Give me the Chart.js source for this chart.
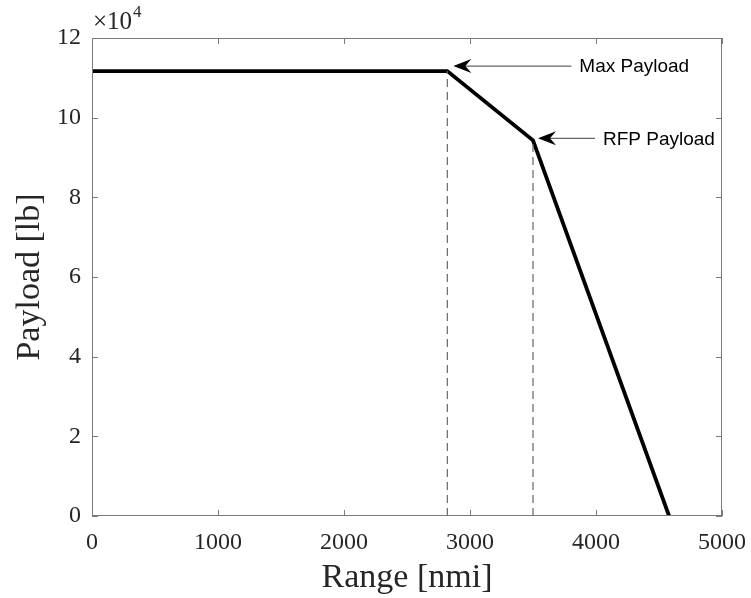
<!DOCTYPE html>
<html lang="en">
<head>
    <meta charset="UTF-8">
    <title>Payload vs Range</title>
    <style>
        body { margin: 0; background: #fff; }
        #wrap { width: 751px; height: 598px; }
    </style>
    <script src="https://cdn.jsdelivr.net/npm/chart.js"></script>
</head>
<body>
    <div id="wrap"><canvas id="payloadChart" width="751" height="598"></canvas></div>

    <script>
        // payload-range diagram data
        const rangeNmi = [0, 2820, 3500, 4580];
        const payloadLb = [111700, 111700, 94300, 0];
        const xTicks = [0, 1000, 2000, 3000, 4000, 5000];
        const yTicks = [0, 20000, 40000, 60000, 80000, 100000, 120000];
        const noteLabels = ['Max Payload', 'RFP Payload'];
        const notePoints = [1, 2]; // index into the line points

        const serif = '"Liberation Serif", "DejaVu Serif", serif';
        const axisGray = '#7a7a7a';
        // arrow layout per note: gap to tip, arrow length, vertical shift
        const arrowCfg = [
            { gap: 6, len: 118, dy: -5 },
            { gap: 5, len: 57, dy: -2 }
        ];

        const linePts = rangeNmi.map((x, i) => ({ x: x, y: payloadLb[i] }));
        const dropLines = notePoints.map(i => [{ x: rangeNmi[i], y: 0 }, { x: rangeNmi[i], y: payloadLb[i] }]);

        // box, inward ticks, exponent label and arrows
        const decorPlugin = {
            id: 'decor',
            afterDatasetsDraw(chart) {
                const ctx = chart.ctx;
                const a = chart.chartArea;
                const xs = chart.scales.x, ys = chart.scales.y;
                ctx.save();
                ctx.strokeStyle = axisGray;
                ctx.lineWidth = 1;
                ctx.strokeRect(a.left + 0.5, a.top + 0.5, a.right - a.left - 1, a.bottom - a.top - 1);
                ctx.beginPath();
                xTicks.forEach(v => {
                    const px = Math.round(xs.getPixelForValue(v)) + 0.5;
                    ctx.moveTo(px, a.bottom); ctx.lineTo(px, a.bottom - 6);
                    ctx.moveTo(px, a.top); ctx.lineTo(px, a.top + 6);
                });
                yTicks.forEach(v => {
                    const py = Math.round(ys.getPixelForValue(v)) + 0.5;
                    ctx.moveTo(a.left, py); ctx.lineTo(a.left + 6, py);
                    ctx.moveTo(a.right, py); ctx.lineTo(a.right - 6, py);
                });
                ctx.stroke();

                // x10^4
                ctx.fillStyle = '#262626';
                ctx.textBaseline = 'alphabetic';
                ctx.textAlign = 'left';
                ctx.font = '25px ' + serif;
                ctx.fillText('\u00d710', a.left + 1, a.top - 9);
                const w = ctx.measureText('\u00d710').width;
                ctx.font = '17px ' + serif;
                ctx.fillText('4', a.left + 1 + w + 1, a.top - 21);

                // annotations with arrows
                ctx.font = '19px "Liberation Sans", Arial, sans-serif';
                ctx.textBaseline = 'middle';
                notePoints.forEach((idx, k) => {
                    const c = arrowCfg[k];
                    const px = xs.getPixelForValue(rangeNmi[idx]);
                    const py = ys.getPixelForValue(payloadLb[idx]) + c.dy;
                    const tip = px + c.gap;
                    const tail = tip + c.len;
                    ctx.strokeStyle = '#666';
                    ctx.lineWidth = 1.3;
                    ctx.beginPath();
                    ctx.moveTo(tip + 10, py); ctx.lineTo(tail, py);
                    ctx.stroke();
                    ctx.fillStyle = '#000';
                    ctx.beginPath();
                    ctx.moveTo(tip, py);
                    ctx.lineTo(tip + 18, py - 7);
                    ctx.lineTo(tip + 12, py);
                    ctx.lineTo(tip + 18, py + 7);
                    ctx.closePath();
                    ctx.fill();
                    ctx.fillText(noteLabels[k], tail + 8, py + 1);
                });
                ctx.restore();
            }
        };

        new Chart(document.getElementById('payloadChart').getContext('2d'), {
            type: 'scatter',
            data: {
                datasets: [
                    {
                        data: dropLines[0], showLine: true, borderColor: '#666', borderWidth: 1.2,
                        borderDash: [8, 5], pointRadius: 0
                    },
                    {
                        data: dropLines[1], showLine: true, borderColor: '#666', borderWidth: 1.2,
                        borderDash: [8, 5], pointRadius: 0
                    },
                    {
                        data: linePts, showLine: true, borderColor: '#000', borderWidth: 3.8,
                        pointRadius: 0, tension: 0
                    }
                ]
            },
            options: {
                responsive: false,
                animation: false,
                layout: { padding: { left: 0, top: 38, right: 29, bottom: 0 } },
                plugins: { legend: { display: false }, tooltip: { enabled: false } },
                scales: {
                    x: {
                        type: 'linear', min: 0, max: 5000,
                        afterBuildTicks: s => { s.ticks = xTicks.map(v => ({ value: v })); },
                        afterFit: s => { s.height = 82; },
                        grid: { display: false },
                        border: { display: false },
                        ticks: { color: '#262626', font: { family: serif, size: 24 }, padding: 4, maxRotation: 0, callback: v => String(v) },
                        title: { display: true, text: 'Range [nmi]', color: '#262626', font: { family: serif, size: 34 }, padding: { top: 2, bottom: 0 } }
                    },
                    y: {
                        type: 'linear', min: 0, max: 120000,
                        afterBuildTicks: s => { s.ticks = yTicks.map(v => ({ value: v })); },
                        afterFit: s => { s.width = 92; },
                        grid: { display: false },
                        border: { display: false },
                        ticks: { color: '#262626', font: { family: serif, size: 24 }, padding: 3, callback: v => String(v / 10000) },
                        title: { display: true, text: 'Payload [lb]', color: '#262626', font: { family: serif, size: 34 }, padding: { bottom: 0, top: 10 } }
                    }
                }
            },
            plugins: [decorPlugin]
        });
    </script>
</body>
</html>
